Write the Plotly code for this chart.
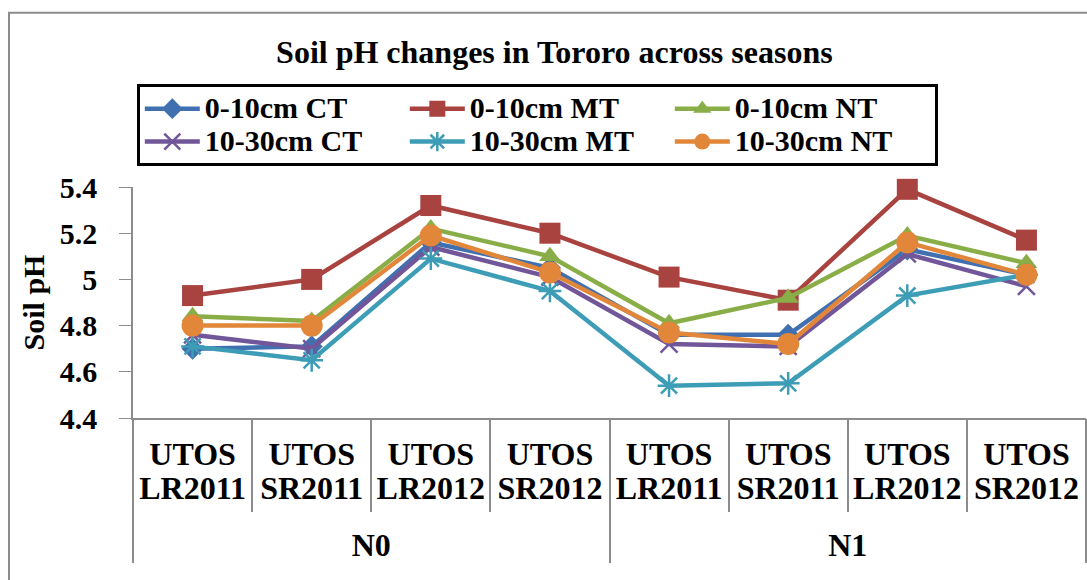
import plotly.graph_objects as go

groups = ["N0"] * 4 + ["N1"] * 4
seasons = ["UTOS LR2011", "UTOS SR2011", "UTOS LR2012", "UTOS SR2012"] * 2

series_names = ["0-10cm CT", "0-10cm MT", "0-10cm NT", "10-30cm CT", "10-30cm MT", "10-30cm NT"]
ct_0_10 = [4.70, 4.71, 5.16, 5.05, 4.76, 4.76, 5.13, 5.02]
mt_0_10 = [4.93, 5.00, 5.32, 5.20, 5.01, 4.91, 5.39, 5.17]
nt_0_10 = [4.84, 4.82, 5.22, 5.10, 4.81, 4.92, 5.19, 5.07]
ct_10_30 = [4.76, 4.70, 5.14, 5.01, 4.72, 4.71, 5.11, 4.97]
mt_10_30 = [4.71, 4.65, 5.09, 4.95, 4.54, 4.55, 4.93, 5.02]
nt_10_30 = [4.80, 4.80, 5.19, 5.03, 4.77, 4.72, 5.16, 5.02]

values = [ct_0_10, mt_0_10, nt_0_10, ct_10_30, mt_10_30, nt_10_30]
colors = ["#4170B0", "#A94340", "#89AE48", "#72569A", "#3E9DB6", "#E2873A"]
symbols = ["diamond", "square", "triangle-up", "x-thin", "asterisk", "circle"]
sizes = [17, 21, 19, 17, 19, 22]

FONT = "Liberation Serif, Times New Roman, serif"
GREY = "#8C8C8C"


def big(text, px):
    return "<br>".join(f"<span style='font-size:{px}px'>{t}</span>" if t.strip() else t
                       for t in text.split("<br>"))


season_labels = [big(s.replace(" ", "<br>") + "<br> ", 32) for s in seasons]
group_labels = [big(g, 32) for g in groups]

fig = go.Figure()
for name, vals, col, sym, sz in zip(series_names, values, colors, symbols, sizes):
    line_marker = sym in ("x-thin", "asterisk")
    fig.add_trace(go.Scatter(
        x=[group_labels, season_labels],
        y=vals,
        name=big(name, 30),
        mode="lines+markers",
        cliponaxis=False,
        line=dict(color=col, width=4.5),
        marker=dict(symbol=sym, size=sz, color=col,
                    line=dict(color=col, width=2.5 if line_marker else 0)),
    ))

# invisible helper trace so the category-boundary tick axis is drawn
fig.add_trace(go.Scatter(x=list(range(len(seasons))), y=ct_0_10, xaxis="x2",
                         mode="markers", marker=dict(opacity=0), showlegend=False,
                         hoverinfo="skip"))

bold = lambda s: dict(family=FONT, size=s, color="black", weight="bold")
n_cat = len(seasons)

fig.update_layout(
    width=1087, height=580,
    margin=dict(l=133, r=1, t=187, b=162),
    paper_bgcolor="white", plot_bgcolor="white",
    font=bold(30),
    title=dict(text="Soil pH changes in Tororo across seasons",
               x=0.51, xanchor="center", y=1 - 52 / 580, yanchor="middle",
               font=bold(32)),
    showlegend=True,
    legend=dict(orientation="h", x=0.004, xanchor="left", y=1.445, yanchor="top",
                entrywidth=195, itemwidth=55,
                bordercolor="black", borderwidth=3, bgcolor="white",
                font=bold(23), tracegroupgap=0, itemsizing="trace"),
    xaxis=dict(type="multicategory", range=[-0.5, n_cat - 0.5], autorange=False,
               showline=True, linecolor=GREY, linewidth=1.5,
               ticks="", showdividers=True, dividercolor=GREY, dividerwidth=1.5,
               showgrid=False, ticklabelstandoff=14, tickfont=bold(26)),
    xaxis2=dict(overlaying="x", anchor="y", side="bottom", range=[-0.5, n_cat - 0.5],
                tick0=-0.5, dtick=1, ticks="outside", ticklen=93, tickwidth=1.5,
                tickcolor=GREY, showticklabels=False, showgrid=False,
                zeroline=False, showline=False),
    yaxis=dict(range=[4.4, 5.4], dtick=0.2, tick0=4.4, showline=True,
               linecolor=GREY, linewidth=1.5, ticks="outside", ticklen=12,
               tickcolor=GREY, showgrid=False, zeroline=False,
               ticklabelstandoff=16, tickfont=bold(30),
               title=dict(text="Soil pH", standoff=6, font=bold(30))),
)

# outer chart border
fig.add_shape(type="rect", xref="paper", yref="paper",
              x0=(9 - 133) / 953, x1=1.02, y0=-1.0, y1=(418.3 - 12) / 231.6,
              line=dict(color=GREY, width=2), fillcolor="rgba(0,0,0,0)", layer="below")

fig.write_html("out.html", config={"displayModeBar": False},
               post_script="document.body.style.margin='0';")
